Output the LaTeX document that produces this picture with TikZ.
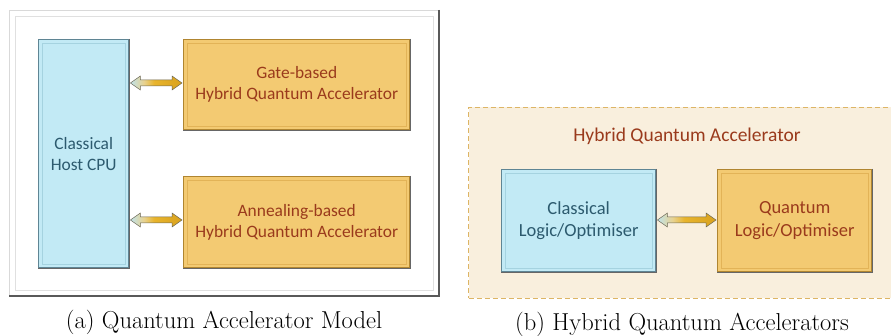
\documentclass[tikz,border=0pt]{standalone}
\usepackage{fontspec}
\setmainfont{Latin Modern Roman}
\newfontfamily\boxfont{Carlito}
\usetikzlibrary{calc,shadows}
\definecolor{bluefill}{HTML}{C2EAF5}
\definecolor{blueedge}{HTML}{5F8594}
\definecolor{blueinner}{HTML}{A5D3E0}
\definecolor{bluetext}{HTML}{2C5A6E}
\definecolor{orfill}{HTML}{F3CA72}
\definecolor{oredge}{HTML}{B08530}
\definecolor{orinner}{HTML}{E2B357}
\definecolor{ortext}{HTML}{9A3A1C}
\definecolor{panelbg}{HTML}{F9EFDD}
\definecolor{paneledge}{HTML}{DDB565}
\definecolor{arrblue}{HTML}{BFE3EC}
\definecolor{arrmid}{HTML}{E8D290}
\definecolor{arrgold}{HTML}{E8B42C}
\definecolor{arrgolddark}{HTML}{D9A21E}
\definecolor{arredge}{HTML}{6E6A58}
\pgfdeclarehorizontalshading{arrshade}{100bp}{color(0bp)=(arrblue); color(25bp)=(arrblue); color(38bp)=(arrmid); color(48bp)=(arrgold); color(75bp)=(arrgolddark); color(100bp)=(arrgolddark)}
\tikzset{
  bluebox/.style={draw=blueedge, line width=1.4pt, fill=bluefill, text=bluetext,
    font=\boxfont\fontsize{17.4}{21}\selectfont, align=center, inner sep=0pt,
    drop shadow={shadow xshift=1.5pt, shadow yshift=-1.5pt, opacity=0.35}},
  orbox/.style={draw=oredge, line width=1.4pt, fill=orfill, text=ortext,
    font=\boxfont\fontsize{17.4}{21}\selectfont, align=center, inner sep=0pt,
    drop shadow={shadow xshift=1.5pt, shadow yshift=-1.5pt, opacity=0.35}},
  innerline/.style={line width=0.8pt},
  caption/.style={font=\fontsize{24.5}{28}\selectfont, text=black},
}
\newcommand{\bevel}[2]{%
  \draw[innerline, #2] ($(#1.north west)+(4,4)$) rectangle ($(#1.south east)+(-4,-4)$);
  \draw[line width=1.4pt, black!60] (#1.north east) -- (#1.south east) -- (#1.south west);
}
\newcommand{\biarrow}[3]{%
  \shade[shading=arrshade, draw=arredge, line width=0.5pt]
    let \p1=(#1), \p2=(#2) in
    (\x1+1,#3) -- (\x1+11,#3+7) -- (\x1+11,#3+3) -- (\x2-11,#3+3) -- (\x2-11,#3+7)
    -- (\x2-1,#3) -- (\x2-11,#3-7) -- (\x2-11,#3-3) -- (\x1+11,#3-3) -- (\x1+11,#3-7) -- cycle;
}
\begin{document}
\begin{tikzpicture}[x=1pt,y=-1pt]
\useasboundingbox (0,0) rectangle (891,336);
% left frame
\node[draw=black!15, fill=white, line width=1pt, minimum width=429pt, minimum height=285pt, inner sep=0pt, anchor=north west] (frame) at (9,10) {};
\draw[line width=1.6pt, black!65] (frame.north east) -- (frame.south east) -- (frame.south west);
\draw[line width=0.8pt, black!12] ($(frame.north west)+(6,6)$) rectangle ($(frame.south east)+(-6,-6)$);
% boxes left
\node[bluebox, minimum width=90pt, minimum height=228pt, anchor=north west] (cpu) at (38,39) {Classical\\Host CPU};
\bevel{cpu}{blueinner}
\node[orbox, minimum width=226pt, minimum height=90pt, anchor=north west] (gate) at (183,39) {Gate-based\\Hybrid Quantum Accelerator};
\bevel{gate}{orinner}
\node[orbox, minimum width=226pt, minimum height=91pt, anchor=north west] (anneal) at (183,176) {Annealing-based\\Hybrid Quantum Accelerator};
\bevel{anneal}{orinner}
\biarrow{cpu.east}{gate.west}{83}
\biarrow{cpu.east}{anneal.west}{220}
\node[caption] (capa) at (224,322) {(a) Quantum Accelerator Model};
% right panel
\node[draw=paneledge, dashed, dash pattern=on 5pt off 3pt, fill=panelbg, line width=1pt, minimum width=430pt, minimum height=191pt, inner sep=0pt, anchor=north west] (panel) at (468,107) {};
\node[text=ortext, font=\boxfont\fontsize{19.5}{23}\selectfont] (title) at (687,136) {Hybrid Quantum Accelerator};
\node[bluebox, font=\boxfont\fontsize{18.5}{22.5}\selectfont, minimum width=154pt, minimum height=102pt, anchor=north west] (cl) at (501,169) {Classical\\Logic/Optimiser};
\bevel{cl}{blueinner}
\node[orbox, font=\boxfont\fontsize{18.5}{22.5}\selectfont, minimum width=154pt, minimum height=102pt, anchor=north west] (qu) at (717,169) {Quantum\\Logic/Optimiser};
\bevel{qu}{orinner}
\biarrow{cl.east}{qu.west}{220}
\node[caption] (capb) at (682,324) {(b) Hybrid Quantum Accelerators};
\end{tikzpicture}
\end{document}
